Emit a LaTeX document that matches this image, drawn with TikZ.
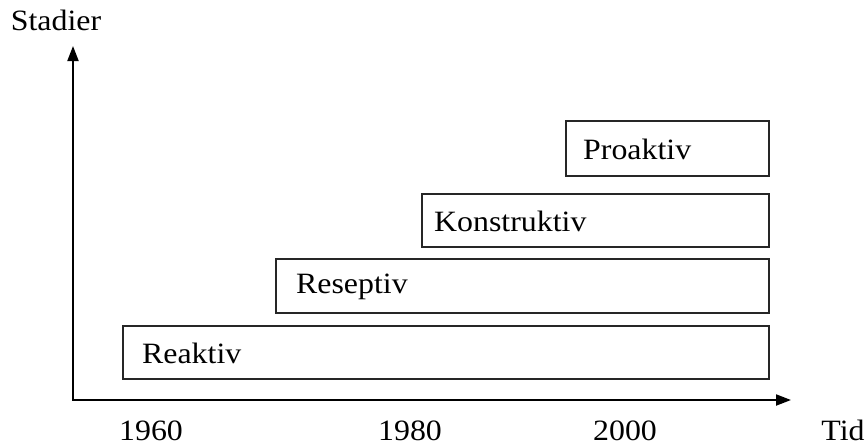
\documentclass[tikz,border=0pt]{standalone}
\usepackage{fontspec}
\setmainfont[FakeStretch=1.08]{Liberation Serif}
\usetikzlibrary{arrows.meta}
\begin{document}
\begin{tikzpicture}[x=1pt,y=-1pt,
  stagebox/.style={draw=black!85,line width=1.5pt,rectangle,inner sep=0pt,anchor=north west},
  lbl/.style={font=\fontsize{29.5}{34}\selectfont,inner sep=0pt},
  axis/.style={line width=2pt,-{Triangle[length=15pt,width=11pt]}}]
\useasboundingbox (0,0) rectangle (866,447);
\coordinate (o) at (73,400);
\coordinate (ytop) at (73,46);
\coordinate (xend) at (791,400);
\draw[axis] (o) -- (ytop);
\draw[axis] ([xshift=-1pt]o) -- (xend);
\node[stagebox,minimum width=646pt,minimum height=53pt] (rea) at (122,325) {};
\node[stagebox,minimum width=493pt,minimum height=54pt] (res) at (275,258) {};
\node[stagebox,minimum width=347pt,minimum height=53pt] (kon) at (421,193) {};
\node[stagebox,minimum width=203pt,minimum height=55pt] (pro) at (565,120) {};
\node[lbl,anchor=west] (trea) at ([xshift=20pt,yshift=-1pt]rea.west) {Reaktiv};
\node[lbl,anchor=west] (tres) at ([xshift=21pt,yshift=-1pt]res.west) {Reseptiv};
\node[lbl,anchor=west] (tkon) at ([xshift=13pt,yshift=-1pt]kon.west) {Konstruktiv};
\node[lbl,anchor=west] (tpro) at ([xshift=18pt,yshift=-1pt]pro.west) {Proaktiv};
\node[lbl,anchor=base] (stad) at (56,30) {Stadier};
\node[lbl,anchor=base] (y60) at (151,440) {1960};
\node[lbl,anchor=base] (y80) at (410,440) {1980};
\node[lbl,anchor=base] (y00) at (625,440) {2000};
\node[lbl,anchor=base] (tid) at (843,440) {Tid};
\end{tikzpicture}
\end{document}
